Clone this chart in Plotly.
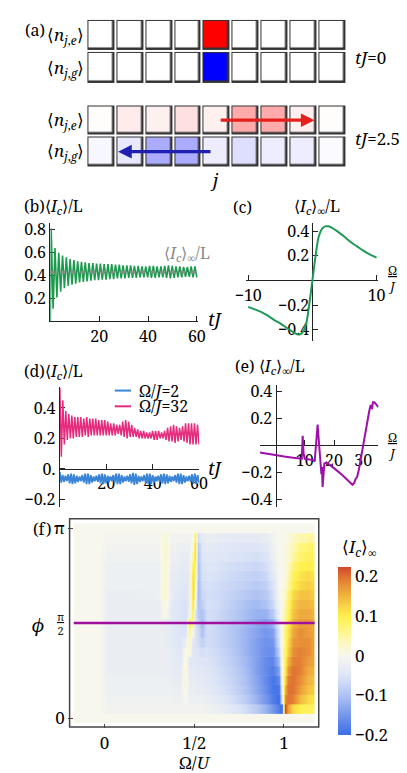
import math
import plotly.graph_objects as go

W, H = 407, 773
FONT = "Noto Serif"

# ---------------- data ----------------
# (a) site occupations (9 sites), e-row and g-row, at tJ=0 and tJ=2.5
sites = [1, 2, 3, 4, 5, 6, 7, 8, 9]
ne_t0 = [0, 0, 0, 0, 1, 0, 0, 0, 0]
ng_t0 = [0, 0, 0, 0, 1, 0, 0, 0, 0]
ne_t25 = [0.01, 0.08, 0.06, 0.12, 0.06, 0.33, 0.33, 0.06, 0.01]
ng_t25 = [0.03, 0.09, 0.33, 0.33, 0.07, 0.13, 0.07, 0.07, 0.02]
arrow_e = (5.1, 8.4)   # tail, head (site units)
arrow_g = (4.85, 1.6)

# (b) <I_c>/L vs tJ : successive extrema, first at tJ=0.35, last at tJ=60
b_start = (0.0, 0.0)
b_extrema = [0.81, 0.11, 0.64, 0.21, 0.60, 0.26, 0.575, 0.29, 0.56, 0.31, 0.545, 0.32,
             0.535, 0.33, 0.525, 0.34, 0.52, 0.345, 0.515, 0.35, 0.51, 0.355, 0.51, 0.36,
             0.505, 0.36, 0.505, 0.365, 0.50, 0.365, 0.50, 0.37, 0.50, 0.37, 0.495, 0.375,
             0.495, 0.375, 0.49, 0.375, 0.49, 0.38, 0.49, 0.38, 0.485, 0.38, 0.485, 0.385,
             0.48, 0.385, 0.48, 0.385, 0.485, 0.38, 0.485, 0.38, 0.48, 0.385, 0.48, 0.385,
             0.485, 0.38, 0.49, 0.375, 0.485, 0.38, 0.48, 0.385, 0.48, 0.385, 0.475, 0.39,
             0.475, 0.39, 0.48, 0.385, 0.48, 0.385]
b_first_t, b_last_t = 0.35, 60.0
b_inf = 0.43

# (c) <I_c>_inf/L vs Omega/J
c_omega = [-10, -9, -8, -7, -6, -5, -4, -3, -2.5, -2, -1.5, -1, -0.5, 0, 0.5, 1, 1.5,
           2, 2.5, 3, 4, 5, 6, 7, 8, 9, 10]
c_val = [-0.215, -0.235, -0.255, -0.285, -0.32, -0.35, -0.385, -0.42, -0.435, -0.44,
         -0.42, -0.36, -0.2, 0.0, 0.2, 0.36, 0.42, 0.44, 0.44, 0.43, 0.395, 0.355, 0.31,
         0.275, 0.24, 0.21, 0.185]

# (d) <I_c>/L vs tJ : successive extrema from tJ=0 to tJ=60
d32_extrema = [0.53, 0.08, 0.45, 0.16, 0.38, 0.19, 0.36, 0.20, 0.35, 0.20, 0.34, 0.21,
               0.34, 0.21, 0.34, 0.21, 0.33, 0.22, 0.34, 0.21, 0.33, 0.22, 0.33, 0.22,
               0.33, 0.22, 0.32, 0.22, 0.32, 0.22, 0.32, 0.22, 0.31, 0.22, 0.30, 0.22,
               0.30, 0.22, 0.29, 0.23, 0.29, 0.22, 0.31, 0.21, 0.32, 0.20, 0.31, 0.21,
               0.29, 0.21, 0.27, 0.21, 0.26, 0.20, 0.25, 0.20, 0.25, 0.20, 0.24, 0.20,
               0.24, 0.20, 0.25, 0.19, 0.25, 0.19, 0.25, 0.20, 0.24, 0.20, 0.25, 0.19,
               0.27, 0.18, 0.28, 0.18, 0.29, 0.17, 0.28, 0.18, 0.27, 0.19, 0.28, 0.18,
               0.30, 0.17, 0.30, 0.16, 0.30, 0.16, 0.30, 0.16, 0.29, 0.16]
d2_extrema = [-0.02, -0.09, -0.04, -0.085, -0.045, -0.08, -0.035, -0.095, -0.03, -0.1,
              -0.035, -0.095, -0.045, -0.085, -0.05, -0.08, -0.04, -0.09, -0.03, -0.1,
              -0.03, -0.1, -0.04, -0.09, -0.05, -0.08, -0.045, -0.085, -0.035, -0.095,
              -0.03, -0.1, -0.035, -0.095, -0.045, -0.085, -0.05, -0.08, -0.04, -0.09,
              -0.03, -0.1, -0.03, -0.1, -0.04, -0.09, -0.05, -0.08, -0.045, -0.085,
              -0.035, -0.095, -0.025, -0.105, -0.03, -0.1, -0.045, -0.085, -0.05, -0.08,
              -0.04, -0.09, -0.03, -0.1, -0.03, -0.1, -0.04, -0.09, -0.05, -0.08,
              -0.045, -0.085, -0.035, -0.095, -0.03, -0.1, -0.035, -0.095, -0.045, -0.085,
              -0.05, -0.08, -0.04, -0.09, -0.03, -0.1, -0.03, -0.1, -0.04, -0.09,
              -0.05, -0.08, -0.045, -0.085, -0.035, -0.095, -0.03, -0.1, -0.04, -0.09]
d_t_end = 60.0

# (e) <I_c>_inf/L vs Omega/J
e_omega = [-5.3, -2.5, 0.0, 3.0, 6.0, 9.0, 9.3, 9.6, 10.0, 11.5, 12.9, 13.4, 14.4, 15.0,
           15.7, 15.9, 16.1, 16.7, 17.4, 20.0, 23.0, 26.3, 26.9, 27.4, 27.9, 28.5, 29.0,
           30.1, 31.1, 32.0, 32.5, 33.0, 33.3, 33.8, 35.2]
e_val = [-0.053, -0.065, -0.075, -0.083, -0.092, -0.1, 0.07, -0.06, -0.1, -0.105, -0.11,
         -0.12, 0.155, -0.02, -0.215, -0.16, -0.31, -0.136, -0.128, -0.17, -0.225, -0.294,
         -0.28, -0.25, -0.235, -0.18, -0.116, 0.007, 0.155, 0.25, 0.30, 0.27, 0.32, 0.32,
         0.284]

# (f) <I_c>_inf over (Omega/U, phi); rows phi = k*pi/20, k = 0..20
f_omega = [-0.16, -0.02, 0.02, 0.15, 0.3, 0.335, 0.37, 0.42, 0.45, 0.47, 0.49, 0.505,
           0.52, 0.54, 0.57, 0.62, 0.7, 0.78, 0.85, 0.9, 0.94, 0.97, 0.99, 1.005, 1.02,
           1.05, 1.09, 1.13, 1.17]
f_phi_steps = list(range(21))
f_z = [
    [0] * 29,
    [0, 0, -0.01, -0.01, -0.01, -0.01, -0.01, -0.01, -0.01, -0.01, -0.01, -0.01, -0.01, -0.01, -0.015, -0.02, -0.035, -0.06, -0.09, -0.12, -0.15, -0.18, -0.2, 0.225, 0.17, 0.12, 0.1, 0.09, 0.09],
    [0, 0, -0.015, -0.015, -0.015, -0.015, -0.015, -0.02, 0.0, -0.02, -0.02, -0.02, -0.02, -0.02, -0.025, -0.035, -0.055, -0.085, -0.12, -0.15, -0.18, -0.2, -0.05, 0.18, 0.2, 0.19, 0.15, 0.12, 0.11],
    [0, 0, -0.02, -0.02, -0.02, -0.02, -0.02, -0.025, 0.01, -0.03, -0.025, -0.025, -0.03, -0.03, -0.035, -0.045, -0.065, -0.095, -0.13, -0.16, -0.19, -0.19, -0.02, 0.15, 0.2, 0.2, 0.17, 0.14, 0.13],
    [0, 0, -0.02, -0.02, -0.02, -0.02, -0.025, -0.03, 0.02, -0.03, -0.03, -0.03, -0.035, -0.035, -0.04, -0.05, -0.07, -0.1, -0.135, -0.165, -0.19, -0.17, 0.0, 0.12, 0.19, 0.2, 0.18, 0.15, 0.14],
    [0, 0, -0.025, -0.025, -0.025, -0.025, -0.03, -0.035, 0.02, -0.035, -0.035, -0.035, -0.04, -0.04, -0.045, -0.055, -0.075, -0.105, -0.14, -0.165, -0.18, -0.14, 0.01, 0.1, 0.17, 0.2, 0.19, 0.16, 0.15],
    [0, 0, -0.025, -0.025, -0.025, -0.025, -0.03, -0.04, 0.02, -0.04, -0.04, -0.04, -0.045, -0.05, -0.05, -0.06, -0.08, -0.11, -0.14, -0.165, -0.17, -0.11, 0.02, 0.09, 0.15, 0.19, 0.19, 0.17, 0.16],
    [0, 0, -0.025, -0.025, -0.025, -0.025, -0.03, -0.045, 0.01, 0.02, -0.05, -0.05, -0.05, -0.06, -0.055, -0.065, -0.085, -0.115, -0.14, -0.16, -0.16, -0.08, 0.02, 0.08, 0.13, 0.18, 0.19, 0.18, 0.16],
    [0, 0, -0.025, -0.025, -0.025, -0.025, -0.035, -0.05, -0.02, 0.04, -0.05, -0.05, -0.06, -0.08, -0.06, -0.07, -0.09, -0.115, -0.14, -0.155, -0.15, -0.06, 0.02, 0.07, 0.12, 0.17, 0.18, 0.18, 0.16],
    [0, 0, -0.025, -0.025, -0.025, -0.025, -0.035, -0.05, -0.05, 0.06, 0.0, -0.05, -0.06, -0.1, -0.06, -0.07, -0.09, -0.115, -0.135, -0.15, -0.14, -0.05, 0.02, 0.07, 0.11, 0.16, 0.18, 0.17, 0.16],
    [0, 0, -0.025, -0.025, -0.025, -0.025, -0.035, -0.05, -0.055, 0.08, 0.06, -0.05, -0.07, -0.11, -0.06, -0.07, -0.09, -0.11, -0.13, -0.14, -0.12, -0.04, 0.02, 0.06, 0.1, 0.15, 0.17, 0.17, 0.16],
    [0, 0, -0.025, -0.025, -0.025, 0.01, -0.035, -0.05, -0.055, -0.02, 0.1, -0.04, -0.09, -0.1, -0.06, -0.065, -0.085, -0.105, -0.12, -0.12, -0.09, -0.02, 0.02, 0.05, 0.09, 0.14, 0.16, 0.16, 0.15],
    [0, 0, -0.025, -0.025, -0.025, 0.02, -0.035, -0.05, -0.055, -0.03, 0.12, 0.0, -0.1, -0.08, -0.055, -0.06, -0.08, -0.1, -0.11, -0.1, -0.07, -0.01, 0.01, 0.04, 0.08, 0.13, 0.15, 0.15, 0.14],
    [0, 0, -0.025, -0.025, -0.02, 0.03, -0.03, -0.045, -0.05, -0.03, 0.13, 0.04, -0.11, -0.07, -0.06, -0.065, -0.075, -0.09, -0.1, -0.09, -0.06, 0.0, 0.01, 0.03, 0.07, 0.12, 0.14, 0.14, 0.13],
    [0, 0, -0.02, -0.02, -0.02, 0.03, -0.03, -0.04, -0.045, -0.03, 0.13, 0.06, -0.11, -0.065, -0.055, -0.06, -0.07, -0.08, -0.09, -0.08, -0.05, 0.0, 0.0, 0.02, 0.05, 0.1, 0.12, 0.13, 0.12],
    [0, 0, -0.02, -0.02, -0.02, 0.03, -0.03, -0.035, -0.04, -0.03, 0.12, 0.08, -0.1, -0.06, -0.05, -0.055, -0.065, -0.075, -0.08, -0.07, -0.04, 0.0, 0.0, 0.01, 0.04, 0.09, 0.11, 0.12, 0.11],
    [0, 0, -0.02, -0.02, -0.02, 0.03, -0.025, -0.03, -0.035, -0.03, 0.1, 0.1, -0.1, -0.055, -0.045, -0.05, -0.06, -0.065, -0.07, -0.06, -0.03, 0.0, 0.0, 0.01, 0.03, 0.07, 0.1, 0.1, 0.1],
    [0, 0, -0.015, -0.015, -0.015, 0.03, -0.02, -0.025, -0.03, -0.025, 0.06, 0.12, -0.1, -0.05, -0.04, -0.045, -0.05, -0.055, -0.06, -0.05, -0.02, 0.0, 0.0, 0.01, 0.02, 0.05, 0.08, 0.09, 0.09],
    [0, 0, -0.01, -0.01, -0.01, 0.03, -0.015, -0.02, -0.02, -0.02, 0.02, 0.12, -0.09, -0.045, -0.035, -0.04, -0.045, -0.05, -0.05, -0.04, -0.015, 0.0, 0.0, 0.01, 0.02, 0.04, 0.07, 0.08, 0.08],
    [0, 0, -0.005, -0.005, -0.005, 0.02, -0.01, -0.01, -0.01, -0.01, 0.0, 0.1, -0.06, -0.03, -0.025, -0.03, -0.035, -0.035, -0.035, -0.03, -0.01, 0.0, 0.0, 0.0, 0.01, 0.03, 0.04, 0.05, 0.05],
    [0] * 29,
]
f_cut_phi = math.pi / 2
f_zmin, f_zmax = -0.2, 0.225

# ---------------- helpers ----------------
def X(px):
    return px / W


def Y(py):
    return 1 - py / H


LINE = "#222222"
FS = 16
TICKFONT = dict(family=FONT, size=FS, color="black")
IC = "⟨<i>I</i><sub><i>c</i></sub>⟩"

fig = go.Figure()

# ---------------- (a) ----------------
frame_cs = [[0, "#333333"], [1, "#333333"]]
occ_cs = [[0, "#0000ff"], [0.5, "#ffffff"], [1, "#ff0000"]]
for ax, ne, ng in (("", ne_t0, ng_t0), ("2", ne_t25, ng_t25)):
    fig.add_trace(go.Heatmap(x=sites, y=[0, 1], z=[[1 for _ in sites], [1 for _ in sites]],
                             colorscale=frame_cs, showscale=False, xgap=2, ygap=2,
                             xaxis="x" + ax, yaxis="y" + ax, hoverinfo="skip"))
    fig.add_trace(go.Heatmap(x=sites, y=[0, 1], z=[[-v for v in ng], list(ne)],
                             colorscale=occ_cs, zmin=-1, zmax=1, showscale=False,
                             xgap=5.5, ygap=5.5, xaxis="x" + ax, yaxis="y" + ax,
                             hoverinfo="skip"))

# ---------------- (b) ----------------
nb = len(b_extrema)
b_t = [b_start[0]] + [b_first_t + i * (b_last_t - b_first_t) / (nb - 1) for i in range(nb)]
b_v = [b_start[1]] + b_extrema
fig.add_trace(go.Scatter(x=b_t, y=b_v, mode="lines", line=dict(color="#1c9a4d", width=1.6),
                         xaxis="x3", yaxis="y3", hoverinfo="skip"))
fig.add_trace(go.Scatter(x=[0, 60.6], y=[b_inf, b_inf], mode="lines",
                         line=dict(color="#8a8a8a", width=2.6, dash="5px,5px"),
                         xaxis="x3", yaxis="y3", hoverinfo="skip"))

# ---------------- (c) ----------------
fig.add_trace(go.Scatter(x=c_omega, y=c_val, mode="lines", line=dict(color="#1c9a55", width=2, shape="spline"),
                         xaxis="x4", yaxis="y4", hoverinfo="skip"))

# ---------------- (d) ----------------
n32 = len(d32_extrema)
fig.add_trace(go.Scatter(x=[i * d_t_end / (n32 - 1) for i in range(n32)], y=d32_extrema,
                         mode="lines", line=dict(color="#e52b7d", width=1.5),
                         xaxis="x5", yaxis="y5", hoverinfo="skip"))
n2 = len(d2_extrema)
fig.add_trace(go.Scatter(x=[i * d_t_end / (n2 - 1) for i in range(n2)], y=d2_extrema,
                         mode="lines", line=dict(color="#3a84d8", width=1.8),
                         xaxis="x5", yaxis="y5", hoverinfo="skip"))

# ---------------- (e) ----------------
fig.add_trace(go.Scatter(x=e_omega, y=e_val, mode="lines", line=dict(color="#9e10aa", width=2),
                         xaxis="x6", yaxis="y6", hoverinfo="skip"))

# ---------------- (f) ----------------
def frac(v):
    return (v - f_zmin) / (f_zmax - f_zmin)


f_cs = [
    [frac(-0.2), "#3b6ee6"], [frac(-0.15), "#7596ec"], [frac(-0.1), "#afc3f3"],
    [frac(-0.05), "#dde5f7"], [frac(0.0), "#f7f7ee"], [frac(0.03), "#fbf8c6"],
    [frac(0.07), "#fff57e"], [frac(0.1), "#fff04e"], [frac(0.13), "#f7cf45"],
    [frac(0.16), "#eeaa3c"], [frac(0.2), "#e07232"], [frac(0.225), "#d2452c"],
]
band = math.pi / 20
for k, row in zip(f_phi_steps, f_z):
    phi = k * band
    # each phi value is drawn as one horizontal band (smooth along Omega only)
    fig.add_trace(go.Heatmap(
        x=f_omega, y=[phi - band / 4, phi + band / 4], z=[row, row],
        colorscale=f_cs, zmin=f_zmin, zmax=f_zmax, zsmooth="best",
        xaxis="x7", yaxis="y7", hoverinfo="skip", showscale=(k == 0),
        colorbar=dict(x=X(335), xanchor="left", y=Y(646.5), yanchor="middle",
                      len=171 / H, lenmode="fraction", thickness=13, thicknessmode="pixels",
                      outlinewidth=0, ticks="", xpad=0, ypad=0,
                      tickvals=[-0.2, -0.1, 0, 0.1, 0.2],
                      ticktext=["−0.2", "−0.1", "0", "0.1", "0.2"],
                      tickfont=dict(family=FONT, size=17, color="black")),
    ))

# ---------------- layout / axes ----------------
hidden = dict(showgrid=False, zeroline=False, showticklabels=False, ticks="", showline=False,
              fixedrange=True)
common = dict(showgrid=False, zeroline=False, fixedrange=True, showline=True, linecolor=LINE,
              linewidth=1.2, ticks="inside", ticklen=5, tickwidth=1, tickcolor=LINE,
              tickfont=TICKFONT, layer="below traces")

lay = dict(
    width=W, height=H, margin=dict(l=0, r=0, t=0, b=0), paper_bgcolor="white",
    plot_bgcolor="white", showlegend=False, font=dict(family=FONT, size=FS, color="black"),
    xaxis=dict(domain=[X(70), X(344)], range=[0.5, 9.5], anchor="y", **hidden),
    yaxis=dict(domain=[Y(70), Y(4)], range=[-0.5, 1.5], anchor="x", **hidden),
    xaxis2=dict(domain=[X(70), X(344)], range=[0.5, 9.5], anchor="y2", **hidden),
    yaxis2=dict(domain=[Y(155), Y(91)], range=[-0.5, 1.5], anchor="x2", **hidden),
    xaxis3=dict(domain=[X(32), X(188)], range=[0, 60.6], anchor="y3", tickvals=[20, 40, 60], **common),
    yaxis3=dict(domain=[Y(311.7), Y(212)], range=[0, 0.855], anchor="x3",
                tickvals=[0.2, 0.4, 0.6, 0.8], **common),
    xaxis4=dict(domain=[X(238.6), X(378)], range=[-10.3, 10.3], anchor="free", position=Y(270),
                tickvals=[-10, 10], **common),
    yaxis4=dict(domain=[Y(332), Y(211.7)], range=[-0.496, 0.466], anchor="free",
                position=X(308.3), tickvals=[-0.4, -0.2, 0.2, 0.4],
                ticktext=["−0.4", "−0.2", "0.2", "0.4"], **common),
    xaxis5=dict(domain=[X(42), X(189)], range=[0, 60.1], anchor="free", position=Y(461.7),
                tickvals=[20, 40, 60], **common),
    yaxis5=dict(domain=[Y(500), Y(378)], range=[-0.247, 0.54], anchor="x5",
                tickvals=[-0.2, 0, 0.2, 0.4], ticktext=["−0.2", "0.", "0.2", "0.4"], **common),
    xaxis6=dict(domain=[X(253), X(378)], range=[-5.3, 35.2], anchor="free", position=Y(437.7),
                tickvals=[10, 20, 30], **common),
    yaxis6=dict(domain=[Y(500), Y(376.7)], range=[-0.456, 0.446], anchor="free",
                position=X(269.5), tickvals=[-0.4, -0.2, 0.2, 0.4],
                ticktext=["−0.4", "−0.2", "0.2", "0.4"], **common),
    xaxis7=dict(domain=[X(56.7), X(310.7)], range=[-0.172, 1.171], anchor="y7",
                showgrid=False, zeroline=False, showline=False, ticks="outside", ticklen=4.5,
                tickcolor="#444444", tickvals=[0, 0.5, 1], ticktext=["0", "1/2", "1"],
                tickfont=dict(family=FONT, size=17, color="black"), fixedrange=True),
    yaxis7=dict(domain=[Y(720), Y(517)], range=[-math.pi / 40, math.pi + math.pi / 40],
                anchor="x7", showgrid=False, zeroline=False, showline=False, ticks="outside",
                ticklen=4.5, tickcolor="#444444", tickvals=[0, math.pi], ticktext=["0", "π"],
                tickfont=dict(family=FONT, size=17, color="black"), fixedrange=True),
)
fig.update_layout(**lay)

# frame around (f) and the cut line
fig.add_shape(type="rect", xref="paper", yref="paper", x0=X(52.3), x1=X(315), y0=Y(724.3),
              y1=Y(512.3), line=dict(color="#444444", width=1.5))
fig.add_shape(type="line", xref="x7 domain", yref="y7", x0=0, x1=1, y0=f_cut_phi,
              y1=f_cut_phi, line=dict(color="#a0109f", width=2.5))

# legend samples for (d)
fig.add_shape(type="line", xref="paper", yref="paper", x0=X(100), x1=X(117), y0=Y(382),
              y1=Y(382), line=dict(color="#3a84d8", width=2))
fig.add_shape(type="line", xref="paper", yref="paper", x0=X(100), x1=X(117), y0=Y(398),
              y1=Y(398), line=dict(color="#e52b7d", width=2))

# arrows in (a)
fig.add_annotation(x=arrow_e[1], y=1, ax=arrow_e[0], ay=1, xref="x2", yref="y2", axref="x2",
                   ayref="y2", showarrow=True, arrowhead=2, arrowsize=0.85, arrowwidth=3.2,
                   arrowcolor="#e3201b", text="", standoff=0)
fig.add_annotation(x=arrow_g[1], y=0, ax=arrow_g[0], ay=0, xref="x2", yref="y2", axref="x2",
                   ayref="y2", showarrow=True, arrowhead=2, arrowsize=0.85, arrowwidth=3.2,
                   arrowcolor="#1f1fb0", text="", standoff=0)


def label(text, x, y, xanchor="left", size=FS, color="black"):
    fig.add_annotation(text=text, x=X(x), y=Y(y), xref="paper", yref="paper",
                       xanchor=xanchor, yanchor="middle", showarrow=False,
                       font=dict(family=FONT, size=size, color=color))


NE = "⟨<i>n</i><sub><i>j</i>,<i>e</i></sub>⟩"
NG = "⟨<i>n</i><sub><i>j</i>,<i>g</i></sub>⟩"
label("(a)", 3, 15)
label(NE, 70, 21, "right", 17)
label(NG, 70, 54, "right", 17)
label(NE, 70, 107, "right", 17)
label(NG, 70, 139, "right", 17)
label("<i>tJ</i>=0", 351, 43, size=17)
label("<i>tJ</i>=2.5", 351, 126, size=17)
label("<i>j</i>", 205, 168, "center", 18)

label("(b)" + IC + "/L", 2, 195)
label("<i>tJ</i>", 196, 309, size=18)
label(IC + "<sub>∞</sub>/L", 150, 243, color="#8a8a8a")

label("(c)", 223, 195)
label(IC + "<sub>∞</sub>/L", 313, 195, "center")
label("<u>Ω</u><br><i>J</i>", 393, 268, "center", size=12)

label("(d)" + IC + "/L", 2, 363)
label("Ω/<i>J</i>=2", 123, 382)
label("Ω/<i>J</i>=32", 123, 398)
label("<i>tJ</i>", 196, 461, size=18)

label("(e) " + IC + "<sub>∞</sub>/L", 225, 358)
label("<u>Ω</u><br><i>J</i>", 393, 438, "center", size=12)

label("(f)", 12, 523)
label("<i>ϕ</i>", 11, 620, size=18)
label("<u>π</u><br>2", 43, 619, "center", size=11)
label("Ω/<i>U</i>", 184, 760, "center", 17)
label(IC + "<sub>∞</sub>", 358, 542, "center", 17)

fig.write_html("out.html")
